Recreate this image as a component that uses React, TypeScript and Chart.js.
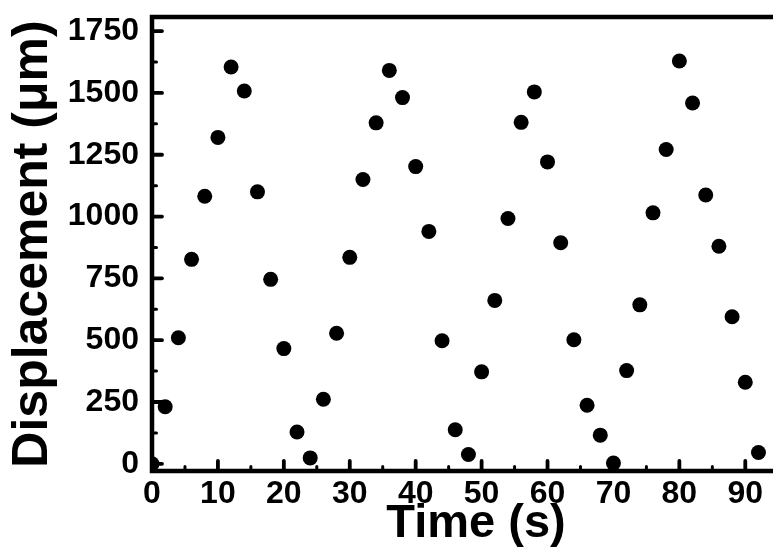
import React, { useEffect, useRef } from "react";
import { Chart, registerables } from "chart.js";

Chart.register(...registerables);

const timeS = [
  0, 2, 4, 6, 8, 10, 12, 14, 16, 18, 20, 22, 24, 26, 28, 30, 32, 34, 36, 38, 40, 42, 44, 46,
  48, 50, 52, 54, 56, 58, 60, 62, 64, 66, 68, 70, 72, 74, 76, 78, 80, 82, 84, 86, 88, 90, 92,
];
const displacementUm = [
  0, 231, 510, 827, 1082, 1320, 1605, 1508, 1100, 746, 466, 129, 24, 261, 528, 835, 1150, 1379,
  1591, 1481, 1202, 940, 498, 138, 38, 372, 661, 992, 1381, 1504, 1221, 894, 502, 237, 116, 3,
  377, 643, 1015, 1271, 1629, 1459, 1087, 880, 595, 330, 46,
];
const xTickValues = [0, 10, 20, 30, 40, 50, 60, 70, 80, 90];
const xMinorTickValues = [5, 15, 25, 35, 45, 55, 65, 75, 85, 95];
const yTickValues = [0, 250, 500, 750, 1000, 1250, 1500, 1750];
const yMinorTickValues = [125, 375, 625, 875, 1125, 1375, 1625];

const xTitle = "Time (s)";
const yTitle = "Displacement (\u03bcm)";

const FONT = "'Liberation Sans', Arial, Helvetica, sans-serif";
const CANVAS_W = 810;
const CANVAS_H = 552;

const axesPlugin = {
  id: "originAxes",
  afterDraw(chart: any) {
    const { ctx, chartArea } = chart;
    const { left, top, bottom } = chartArea;
    const xs = chart.scales.x;
    const ys = chart.scales.y;
    ctx.save();
    ctx.strokeStyle = "#000";
    ctx.lineCap = "butt";
    ctx.lineWidth = 4.5;
    ctx.beginPath();
    ctx.moveTo(left, top - 2.25);
    ctx.lineTo(left, bottom + 2.25);
    ctx.moveTo(left - 2.25, bottom);
    ctx.lineTo(chart.width, bottom);
    ctx.moveTo(left - 2.25, top);
    ctx.lineTo(chart.width, top);
    ctx.stroke();
    ctx.lineCap = "round";
    ctx.lineWidth = 3.8;
    ctx.beginPath();
    yTickValues.forEach((v) => {
      const p = ys.getPixelForValue(v);
      ctx.moveTo(left, p);
      ctx.lineTo(left + 10, p);
    });
    xTickValues.forEach((v) => {
      const p = xs.getPixelForValue(v);
      ctx.moveTo(p, bottom);
      ctx.lineTo(p, bottom - 10);
    });
    ctx.stroke();
    ctx.lineWidth = 3;
    ctx.beginPath();
    yMinorTickValues.forEach((v) => {
      const p = ys.getPixelForValue(v);
      ctx.moveTo(left, p);
      ctx.lineTo(left + 4.5, p);
    });
    xMinorTickValues.forEach((v) => {
      const p = xs.getPixelForValue(v);
      ctx.moveTo(p, bottom);
      ctx.lineTo(p, bottom - 4.5);
    });
    ctx.stroke();
    ctx.restore();
  },
};

export default function App() {
  const canvasRef = useRef<HTMLCanvasElement | null>(null);

  useEffect(() => {
    const canvas = canvasRef.current;
    if (!canvas) return;
    const points = timeS.map((t, i) => ({ x: t, y: displacementUm[i] }));
    const chart = new Chart(canvas, {
      type: "scatter",
      data: {
        datasets: [
          {
            data: points,
            backgroundColor: "#000",
            borderColor: "#000",
            borderWidth: 0,
            pointRadius: 7.5,
            pointHoverRadius: 7.5,
            pointStyle: "circle",
            clip: { left: 0, top: 10, right: 10, bottom: 10 },
          } as any,
        ],
      },
      options: {
        responsive: false,
        animation: false,
        devicePixelRatio: 1,
        events: [],
        layout: { padding: { top: 17, right: 10, left: 0, bottom: 0 } },
        plugins: {
          legend: { display: false },
          tooltip: { enabled: false },
          title: { display: false },
        },
        scales: {
          x: {
            type: "linear",
            min: 0,
            max: 98.3,
            grid: { display: false, drawTicks: false },
            border: { display: false },
            afterBuildTicks: (s: any) => {
              s.ticks = xTickValues.map((v) => ({ value: v }));
            },
            afterFit: (s: any) => {
              s.height = 81;
              s.paddingLeft = 0;
              s.paddingRight = 0;
            },
            ticks: {
              autoSkip: false,
              maxRotation: 0,
              minRotation: 0,
              padding: 4,
              color: "#000",
              font: { family: FONT, size: 32, weight: "bold", lineHeight: 1.2 },
              callback: (v: any) => String(v),
            },
            title: {
              display: true,
              text: xTitle,
              color: "#000",
              font: { family: FONT, size: 47, weight: "bold", lineHeight: 1.2 },
              padding: { top: 0, bottom: 0 },
            },
          },
          y: {
            type: "linear",
            min: -29,
            max: 1807,
            grid: { display: false, drawTicks: false },
            border: { display: false },
            afterBuildTicks: (s: any) => {
              s.ticks = yTickValues.map((v) => ({ value: v }));
            },
            afterFit: (s: any) => {
              s.width = 152;
              s.paddingTop = 0;
              s.paddingBottom = 0;
            },
            ticks: {
              autoSkip: false,
              padding: 13,
              color: "#000",
              font: { family: FONT, size: 32, weight: "bold", lineHeight: 1.2 },
              callback: (v: any) => String(v),
            },
            title: {
              display: true,
              text: yTitle,
              color: "#000",
              font: { family: FONT, size: 50, weight: "bold", lineHeight: 1.2 },
              padding: { top: 3, bottom: 0 },
            },
          },
        },
      },
      plugins: [axesPlugin],
    });
    return () => chart.destroy();
  }, []);

  return (
    <div
      style={{
        position: "fixed",
        left: 0,
        top: 0,
        width: 773,
        height: 552,
        overflow: "hidden",
        background: "#fff",
      }}
    >
      <canvas
        ref={canvasRef}
        width={CANVAS_W}
        height={CANVAS_H}
        style={{ display: "block", width: CANVAS_W, height: CANVAS_H }}
      />
    </div>
  );
}
